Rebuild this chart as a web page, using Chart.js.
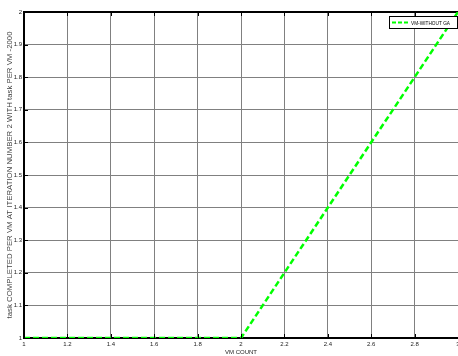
<!DOCTYPE html>
<html>
<head>
<meta charset="utf-8">
<script src="https://cdn.jsdelivr.net/npm/chart.js@4.4.1/dist/chart.umd.min.js"></script>
<style>
  html, body { margin: 0; padding: 0; background: #fff; overflow: hidden; }
  #wrap { width: 458px; height: 356px; overflow: hidden; position: relative; }
  canvas { display: block; }
</style>
</head>
<body>
<div id="wrap"><canvas id="c" width="470" height="356"></canvas></div>
<script>
// ---- data ----
const vmCount = [1, 2, 3];
const tasksCompleted = [1, 1, 2];
const seriesLabel = 'VM-WITHOUT GA';
const xTitle = 'VM COUNT';
const yTitle = 'task COMPLETED PER VM AT ITERATION NUMBER 2 WITH task PER VM -2000';
const xMin = 1, xMax = 3, xStep = 0.2;
const yMin = 1, yMax = 2, yStep = 0.1;

const FONT = "Liberation Sans, Arial, sans-serif";
const GREEN = '#00ff00';

const frameExtras = {
  id: 'frameExtras',
  afterDatasetsDraw(chart) {
    const ctx = chart.ctx;
    const a = chart.chartArea;
    const xs = chart.scales.x, ys = chart.scales.y;
    ctx.save();
    ctx.strokeStyle = '#000';
    ctx.lineWidth = 1;
    ctx.beginPath();
    xs.ticks.forEach(t => {
      const px = Math.round(xs.getPixelForValue(t.value)) + 0.5;
      ctx.moveTo(px, a.bottom); ctx.lineTo(px, a.bottom - 4);
      ctx.moveTo(px, a.top); ctx.lineTo(px, a.top + 4);
    });
    ys.ticks.forEach(t => {
      const py = Math.round(ys.getPixelForValue(t.value)) + 0.5;
      ctx.moveTo(a.left, py); ctx.lineTo(a.left + 4, py);
    });
    ctx.stroke();

    // legend box
    const w = 69, h = 13;
    const x = a.right - w, y = a.top + 4;
    ctx.fillStyle = '#fff';
    ctx.fillRect(x, y, w, h);
    ctx.strokeStyle = '#000';
    ctx.lineWidth = 1;
    ctx.strokeRect(x + 0.5, y + 0.5, w - 1, h - 1);
    ctx.strokeStyle = GREEN;
    ctx.lineWidth = 2;
    ctx.setLineDash([4, 2]);
    ctx.beginPath();
    ctx.moveTo(x + 3, y + h / 2);
    ctx.lineTo(x + 20, y + h / 2);
    ctx.stroke();
    ctx.setLineDash([]);
    ctx.fillStyle = '#000';
    ctx.font = '6px ' + FONT;
    ctx.textBaseline = 'middle';
    ctx.fillText(seriesLabel, x + 22, y + h / 2 + 0.5, 39);
    ctx.restore();
  }
};

new Chart(document.getElementById('c'), {
  type: 'line',
  data: {
    datasets: [{
      label: seriesLabel,
      data: vmCount.map((v, i) => ({ x: v, y: tasksCompleted[i] })),
      borderColor: GREEN,
      borderWidth: 2.5,
      borderDash: [6, 3],
      pointRadius: 0,
      fill: false,
      tension: 0
    }]
  },
  options: {
    responsive: false,
    animation: false,
    devicePixelRatio: 1,
    layout: { padding: { left: 0, right: 12, top: 12, bottom: 0 } },
    plugins: { legend: { display: false }, tooltip: { enabled: false } },
    scales: {
      x: {
        type: 'linear',
        min: xMin, max: xMax,
        afterFit(s) { s.height = 18; },
        ticks: {
          stepSize: xStep,
          autoSkip: false,
          padding: 3,
          color: '#222',
          font: { size: 6, family: FONT },
          callback: v => String(Math.round(v * 10) / 10)
        },
        grid: {
          drawTicks: false,
          color: ctx => (ctx.tick && Math.abs(ctx.tick.value - xMax) < 1e-9) ? '#000' : '#808080',
          lineWidth: 1
        },
        border: { display: true, color: '#000', width: 2 },
        title: {
          display: true,
          text: xTitle,
          color: '#222',
          font: { size: 6, family: FONT },
          padding: { top: 0, bottom: 0 }
        }
      },
      y: {
        type: 'linear',
        min: yMin, max: yMax,
        afterFit(s) { s.width = 24; },
        ticks: {
          stepSize: yStep,
          autoSkip: false,
          padding: 2,
          color: '#222',
          font: { size: 6, family: FONT },
          callback: v => String(Math.round(v * 10) / 10)
        },
        grid: {
          drawTicks: false,
          color: ctx => (ctx.tick && Math.abs(ctx.tick.value - yMax) < 1e-9) ? '#000' : '#808080',
          lineWidth: ctx => (ctx.tick && Math.abs(ctx.tick.value - yMax) < 1e-9) ? 2 : 1
        },
        border: { display: true, color: '#000', width: 2 },
        title: {
          display: true,
          text: yTitle,
          color: '#444',
          font: { size: 7.8, family: FONT },
          padding: { top: 5.5, bottom: 0 }
        }
      }
    }
  },
  plugins: [frameExtras]
});
</script>
</body>
</html>
